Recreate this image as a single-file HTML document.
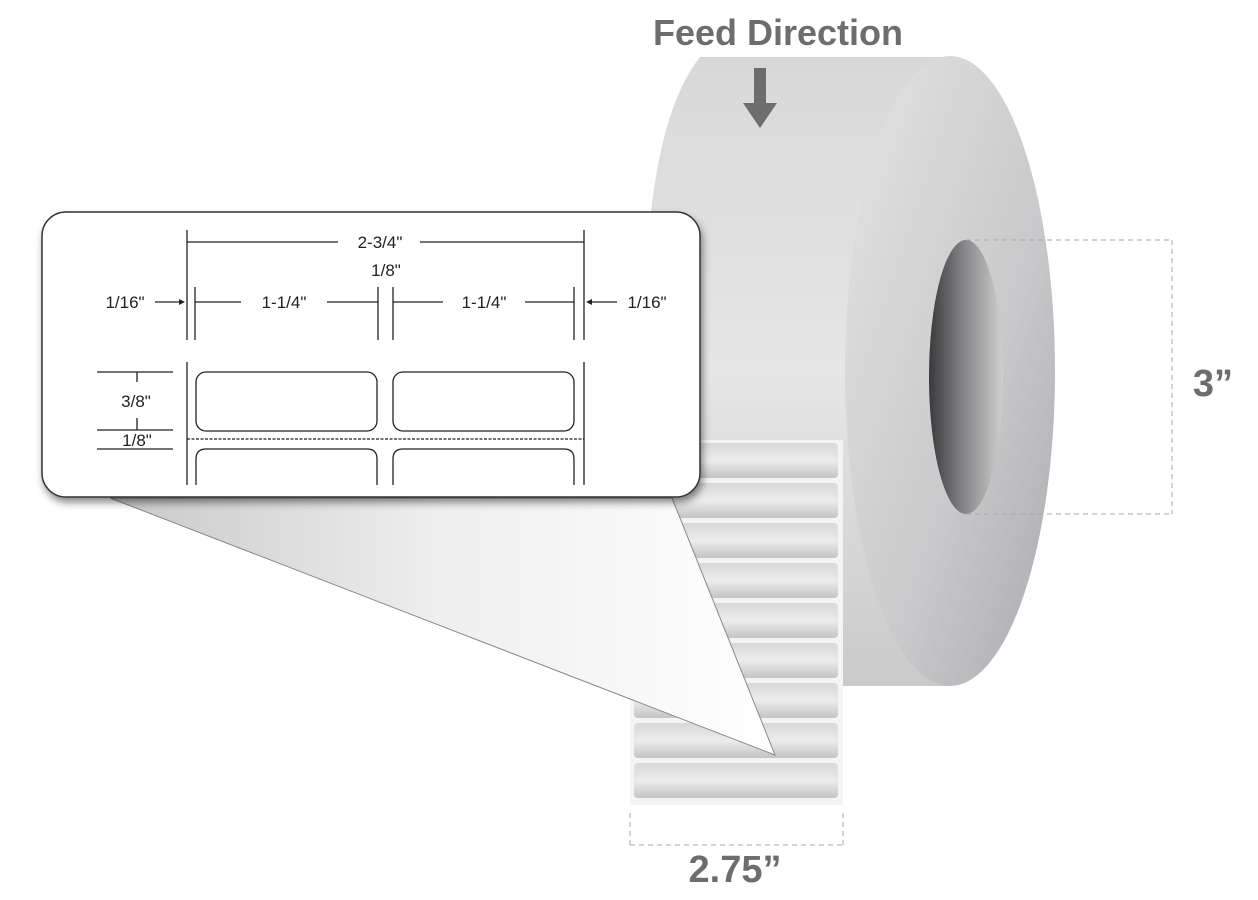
<!DOCTYPE html>
<html><head><style>body{margin:0;background:#fff}svg{display:block}</style></head><body>
<svg width="1258" height="900" viewBox="0 0 1258 900" xmlns="http://www.w3.org/2000/svg" font-family="Liberation Sans, sans-serif">
<defs>
<linearGradient id="body" x1="0" y1="0" x2="0" y2="1"><stop offset="0" stop-color="#d8d8d8"/><stop offset="0.5" stop-color="#e6e6e6"/><stop offset="1" stop-color="#cacaca"/></linearGradient>
<linearGradient id="face" x1="0" y1="0" x2="1" y2="1"><stop offset="0" stop-color="#e4e4e4"/><stop offset="0.6" stop-color="#c9c9cb"/><stop offset="1" stop-color="#a9aaae"/></linearGradient>
<linearGradient id="hole" x1="0" y1="0" x2="1" y2="0"><stop offset="0" stop-color="#3a3a3c"/><stop offset="0.5" stop-color="#8a8a8c"/><stop offset="1" stop-color="#cfcfcf"/></linearGradient>
<linearGradient id="lab" x1="0" y1="0" x2="0" y2="1"><stop offset="0" stop-color="#d8d8d8"/><stop offset="0.5" stop-color="#ececec"/><stop offset="1" stop-color="#c4c4c4"/></linearGradient>
<linearGradient id="tri" x1="0" y1="0" x2="1" y2="0"><stop offset="0" stop-color="#c8c8c8"/><stop offset="0.5" stop-color="#efefef"/><stop offset="1" stop-color="#ffffff"/></linearGradient>
<filter id="sh" x="-10%" y="-10%" width="120%" height="130%"><feDropShadow dx="2" dy="5" stdDeviation="4" flood-color="#000" flood-opacity="0.45"/></filter>
</defs>
<path d="M700,57 L950,57 L950,686 L915,686 L645,686 L645,300 Q650,120 700,57 Z" fill="url(#body)"/>
<rect x="630" y="440" width="213" height="365" fill="#f4f4f4"/>
<g fill="url(#lab)">
<rect x="634" y="443" width="204" height="35" rx="4"/><rect x="634" y="483" width="204" height="35" rx="4"/>
<rect x="634" y="523" width="204" height="35" rx="4"/><rect x="634" y="563" width="204" height="35" rx="4"/>
<rect x="634" y="603" width="204" height="35" rx="4"/><rect x="634" y="643" width="204" height="35" rx="4"/>
<rect x="634" y="683" width="204" height="35" rx="4"/><rect x="634" y="723" width="204" height="35" rx="4"/>
<rect x="634" y="763" width="204" height="35" rx="4"/>
</g>
<ellipse cx="950" cy="371" rx="105" ry="315" fill="url(#face)"/>
<ellipse cx="966" cy="377" rx="37" ry="137" fill="url(#hole)"/>
<polygon points="110,498 672,498 775,755" fill="url(#tri)" stroke="#888" stroke-width="1"/>
<rect x="42" y="212" width="658" height="285" rx="24" fill="#fff" stroke="#333" stroke-width="1.5" filter="url(#sh)"/>
<g stroke="#222" stroke-width="1.3" fill="none">
<line x1="187" y1="230" x2="187" y2="340"/><line x1="584" y1="230" x2="584" y2="340"/>
<line x1="187" y1="242" x2="338" y2="242"/><line x1="420" y1="242" x2="584" y2="242"/>
<line x1="195" y1="287" x2="195" y2="340"/><line x1="378" y1="287" x2="378" y2="340"/>
<line x1="393" y1="287" x2="393" y2="340"/><line x1="574" y1="287" x2="574" y2="340"/>
<line x1="195" y1="302" x2="241" y2="302"/><line x1="327" y1="302" x2="378" y2="302"/>
<line x1="393" y1="302" x2="443" y2="302"/><line x1="525" y1="302" x2="574" y2="302"/>
<line x1="155" y1="302" x2="184" y2="302"/><line x1="588" y1="302" x2="617" y2="302"/>
<line x1="187" y1="362" x2="187" y2="485"/><line x1="584" y1="362" x2="584" y2="485"/>
<rect x="196" y="372" width="181" height="59" rx="10"/><rect x="393" y="372" width="181" height="59" rx="10"/>
<path d="M196,485 V459 Q196,449 206,449 H367 Q377,449 377,459 V485"/>
<path d="M393,485 V459 Q393,449 403,449 H564 Q574,449 574,459 V485"/>
<line x1="187" y1="439" x2="584" y2="439" stroke-dasharray="3 1.5"/>
<line x1="97" y1="372" x2="173" y2="372"/><line x1="97" y1="430" x2="173" y2="430"/><line x1="97" y1="449" x2="173" y2="449"/>
<line x1="137" y1="372" x2="137" y2="382"/><line x1="137" y1="418" x2="137" y2="430"/>
</g>
<polygon points="185,302 179,299 179,305" fill="#222"/><polygon points="586,302 592,299 592,305" fill="#222"/>
<g font-size="17" fill="#222" text-anchor="middle">
<text x="380" y="248">2-3/4"</text><text x="386" y="276">1/8"</text>
<text x="284" y="308">1-1/4"</text><text x="484" y="308">1-1/4"</text>
<text x="125" y="308">1/16"</text><text x="647" y="308">1/16"</text>
<text x="136" y="407">3/8"</text><text x="137" y="446">1/8"</text>
</g>
<g stroke="#aaa" stroke-width="1" stroke-dasharray="5 4" fill="none">
<line x1="966" y1="240" x2="1172" y2="240"/><line x1="966" y1="514" x2="1172" y2="514"/><line x1="1172" y1="240" x2="1172" y2="514"/>
<path d="M630,845 V812 M843,845 V812 M630,845 H843"/>
</g>
<g font-weight="bold" fill="#6d6d6d" text-anchor="middle">
<text x="778" y="45" font-size="36">Feed Direction</text>
<text x="1213" y="396" font-size="38">3”</text>
<text x="735" y="882" font-size="38">2.75”</text>
</g>
<path d="M754,68 H766 V103 H777 L760,128 L743,103 H754 Z" fill="#6d6d6d"/>
</svg>
</body></html>
